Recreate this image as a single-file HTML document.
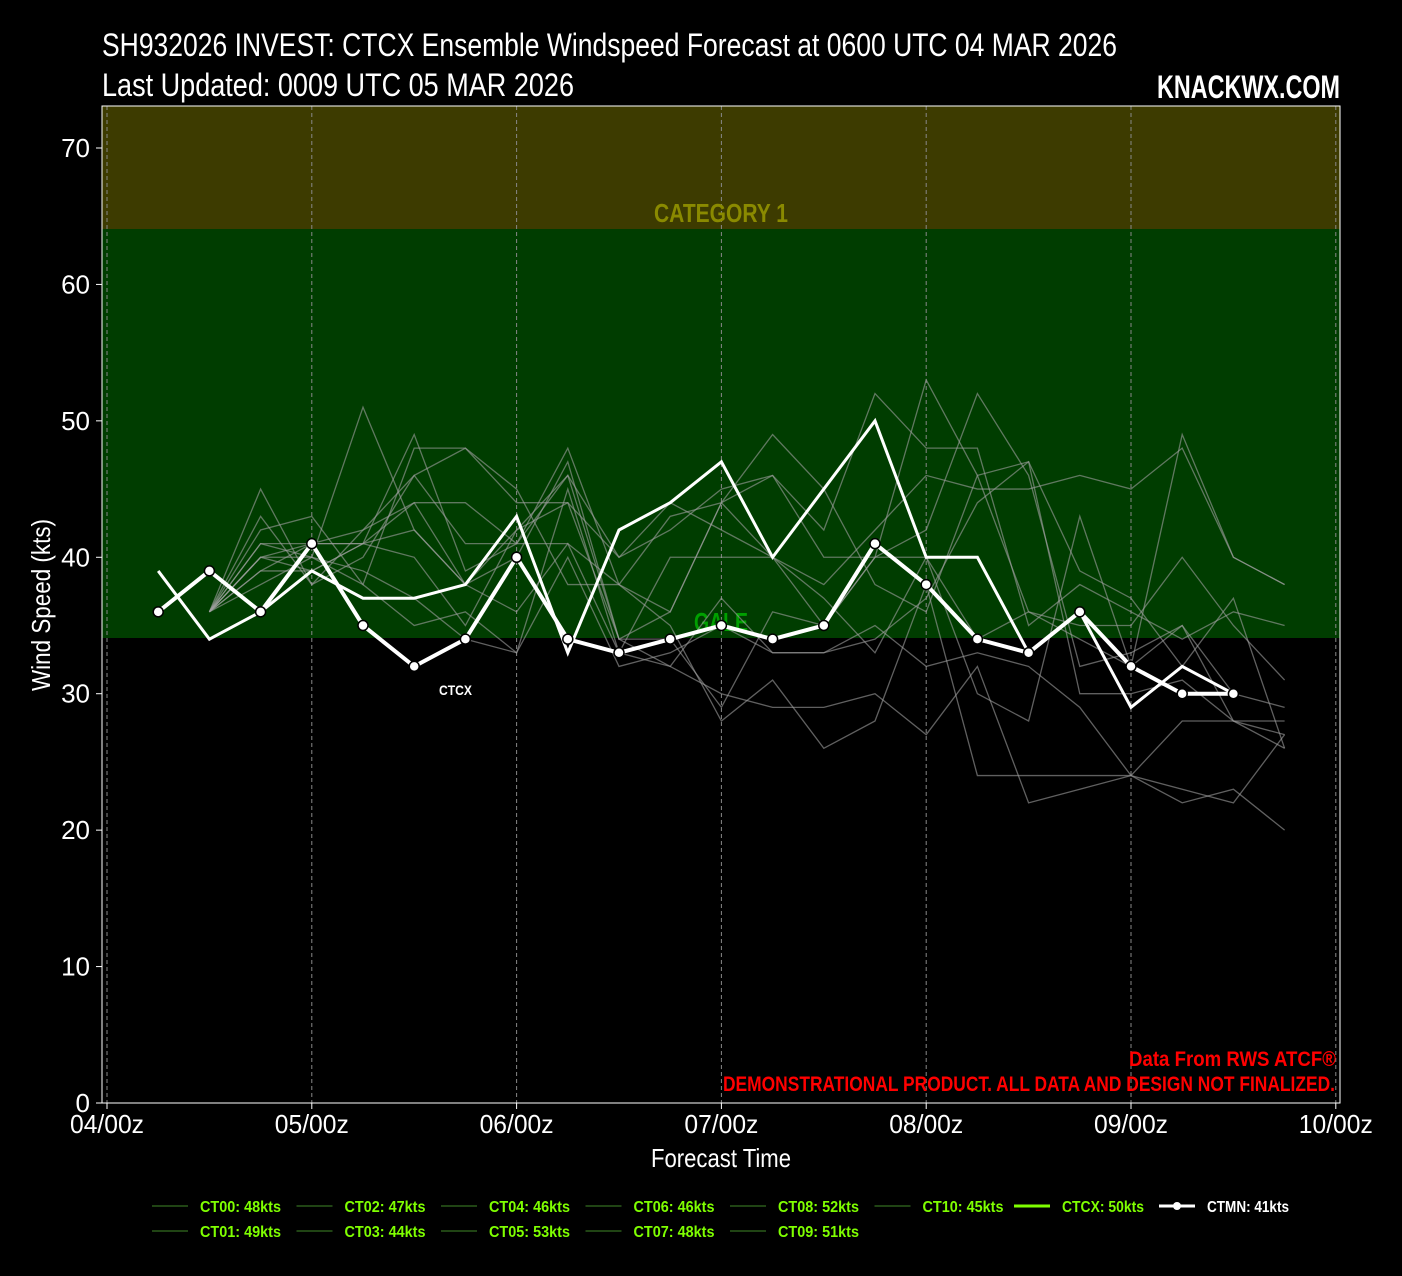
<!DOCTYPE html>
<html><head><meta charset="utf-8"><style>
body{margin:0;background:#000;width:1402px;height:1276px;overflow:hidden}
svg{display:block}
text{font-family:"Liberation Sans Narrow","Liberation Sans",sans-serif}
</style></head><body>
<svg id="s" width="1402" height="1276" xmlns="http://www.w3.org/2000/svg">
<rect width="1402" height="1276" fill="#000"/>
<rect x="102" y="106" width="1238" height="123" fill="#3d3b00"/>
<rect x="102" y="229" width="1238" height="409" fill="#003d00"/>
<g id="grid" stroke="#888" stroke-dasharray="4,3" stroke-width="1"></g>
<text x="654" y="222" fill="#8a8a00" font-size="26" font-weight="bold" textLength="134" lengthAdjust="spacingAndGlyphs">CATEGORY 1</text>
<text x="694" y="631" fill="#00a000" font-size="26" font-weight="bold" textLength="54" lengthAdjust="spacingAndGlyphs">GALE</text>
<g id="ens" fill="none" stroke="#a0a0a0" stroke-opacity="0.6" stroke-width="1.3"></g>
<g id="main"></g>
<text x="439" y="695" fill="#fff" font-size="14" font-weight="bold" textLength="33" lengthAdjust="spacingAndGlyphs">CTCX</text>
<rect x="102" y="106" width="1238" height="997" fill="none" stroke="#fff" stroke-width="1"/>
<g id="ticks" fill="#fff" font-size="26"></g>
<text x="102" y="56" fill="#fff" font-size="32" textLength="1015" lengthAdjust="spacingAndGlyphs">SH932026 INVEST: CTCX Ensemble Windspeed Forecast at 0600 UTC 04 MAR 2026</text>
<text x="102" y="96" fill="#fff" font-size="32" textLength="472" lengthAdjust="spacingAndGlyphs">Last Updated: 0009 UTC 05 MAR 2026</text>
<text x="1157" y="98" fill="#fff" font-size="32" font-weight="bold" textLength="183" lengthAdjust="spacingAndGlyphs">KNACKWX.COM</text>
<text x="651" y="1167" fill="#fff" font-size="26" textLength="140" lengthAdjust="spacingAndGlyphs">Forecast Time</text>
<text transform="translate(50,605) rotate(-90)" fill="#fff" font-size="26" x="-86" textLength="172" lengthAdjust="spacingAndGlyphs">Wind Speed (kts)</text>
<text x="1129" y="1066" fill="#f00" font-size="21" font-weight="bold" textLength="207" lengthAdjust="spacingAndGlyphs">Data From RWS ATCF®</text>
<text x="723" y="1091" fill="#f00" font-size="21" font-weight="bold" textLength="612" lengthAdjust="spacingAndGlyphs">DEMONSTRATIONAL PRODUCT. ALL DATA AND DESIGN NOT FINALIZED.</text>
<g id="leg" font-size="16" font-weight="bold" fill="#7fff00"></g>
</svg>
<script>
const NS="http://www.w3.org/2000/svg";
function el(p,t,a,txt){const e=document.createElementNS(NS,t);for(const k in a)e.setAttribute(k,a[k]);if(txt!=null)e.textContent=txt;document.getElementById(p).appendChild(e);return e;}
const X=i=>107+i*51.2, Y=v=>1103-v*13.643;
const lbl=['04/00z','05/00z','06/00z','07/00z','08/00z','09/00z','10/00z'];
for(let d=0;d<=6;d++){el('grid','line',{x1:X(d*4),x2:X(d*4),y1:106,y2:1103});
el('ticks','text',{x:X(d*4)-37,y:1133,textLength:74,lengthAdjust:'spacingAndGlyphs'},lbl[d]);
el('ticks','line',{x1:X(d*4),x2:X(d*4),y1:1103,y2:1109,stroke:'#fff'});}
for(let v=0;v<=70;v+=10){el('ticks','text',{x:90,y:Y(v)+9,'text-anchor':'end'},v);el('ticks','line',{x1:96,x2:102,y1:Y(v),y2:Y(v),stroke:'#fff'});}
const ens=[
[36,41,41,42,46,41,41,48,38,36,44,49,45,38,36,46,47,30,30,31,28,27],
[36,40,40,51,42,38,40,47,34,36,44,46,40,40,42,52,46,32,33,35,28,26],
[36,45,38,40,46,48,45,38,38,43,44,40,35,40,53,46,36,34,32,49,40,38],
[36,43,38,42,44,44,41,46,40,42,45,46,42,52,48,48,35,38,36,34,36,35],
[36,40,41,41,42,38,42,44,40,44,42,40,38,42,46,45,45,46,45,48,40,38],
[36,39,39,41,40,35,42,46,34,34,29,36,35,40,40,30,28,43,32,35,30,29],
[36,39,41,41,49,39,41,41,38,35,28,31,26,28,38,24,24,24,24,22,23,20],
[36,38,40,38,35,36,33,45,33,32,30,29,29,30,27,32,22,23,24,28,28,28],
[36,41,40,39,37,34,33,40,32,33,35,33,33,35,32,33,32,29,24,23,22,27],
[36,42,43,38,48,48,44,44,34,32,37,33,33,34,37,44,47,39,37,32,37,26],
[36,40,39,41,44,38,36,41,33,40,40,40,37,33,40,34,36,35,35,40,35,31]];
ens.forEach(a=>el('ens','polyline',{points:a.map((v,k)=>X(k+2)+','+Y(v)).join(' ')}));
const ctcx=[39,34,36,39,37,37,38,43,33,42,44,47,40,45,50,40,40,33,36,29,32,30];
const ctmn=[36,39,36,41,35,32,34,40,34,33,34,35,34,35,41,38,34,33,36,32,30,30];
el('main','polyline',{points:ctcx.map((v,k)=>X(k+1)+','+Y(v)).join(' '),fill:'none',stroke:'#fff','stroke-width':3});
el('main','polyline',{points:ctmn.map((v,k)=>X(k+1)+','+Y(v)).join(' '),fill:'none',stroke:'#fff','stroke-width':4});
ctmn.forEach((v,k)=>el('main','circle',{cx:X(k+1),cy:Y(v),r:5,fill:'#fff',stroke:'#000','stroke-width':1.5}));
const L=[['CT00: 48kts','CT01: 49kts'],['CT02: 47kts','CT03: 44kts'],['CT04: 46kts','CT05: 53kts'],['CT06: 46kts','CT07: 48kts'],['CT08: 52kts','CT09: 51kts'],['CT10: 45kts']];
L.forEach((c,i)=>c.forEach((t,j)=>{const x=152+i*144.5,y=1206+j*25;
el('leg','line',{x1:x,x2:x+36,y1:y,y2:y,stroke:'#2a5a1a','stroke-width':1.5});
el('leg','text',{x:x+48,y:y+6,textLength:81,lengthAdjust:'spacingAndGlyphs'},t);}));
el('leg','line',{x1:1014,x2:1050,y1:1206,y2:1206,stroke:'#7fff00','stroke-width':3});
el('leg','text',{x:1062,y:1212,textLength:82,lengthAdjust:'spacingAndGlyphs'},'CTCX: 50kts');
el('leg','line',{x1:1159,x2:1195,y1:1206,y2:1206,stroke:'#fff','stroke-width':3});
el('leg','circle',{cx:1177,cy:1206,r:4,fill:'#fff'});
el('leg','text',{x:1207,y:1212,fill:'#fff',textLength:82,lengthAdjust:'spacingAndGlyphs'},'CTMN: 41kts');
</script>
</body></html>
